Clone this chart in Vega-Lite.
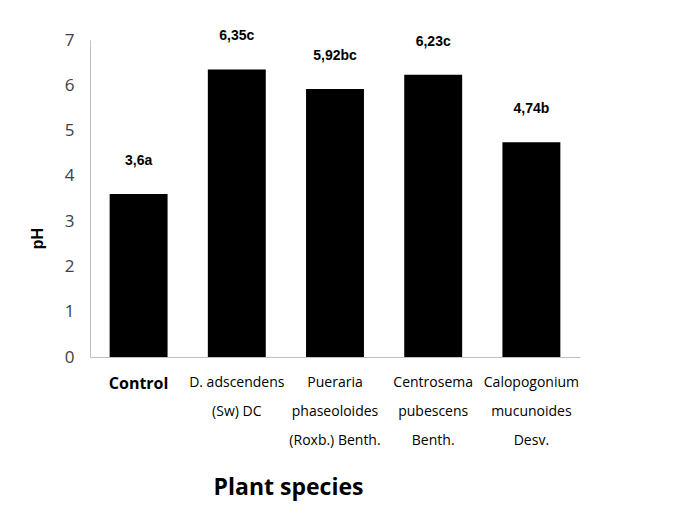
{
  "$schema": "https://vega.github.io/schema/vega-lite/v6.json",
  "autosize": "none",
  "width": 490,
  "height": 317,
  "padding": {"left": 90, "top": 40, "right": 109, "bottom": 162},
  "background": "white",
  "config": {"view": {"stroke": null}},
  "data": {"values": [
    {"species": "Control", "ph": 3.6, "label": "3,6a"},
    {"species": "D. adscendens|(Sw) DC", "ph": 6.35, "label": "6,35c"},
    {"species": "Pueraria|phaseoloides|(Roxb.) Benth.", "ph": 5.92, "label": "5,92bc"},
    {"species": "Centrosema|pubescens|Benth.", "ph": 6.23, "label": "6,23c"},
    {"species": "Calopogonium|mucunoides|Desv.", "ph": 4.74, "label": "4,74b"}
  ]},
  "encoding": {
    "x": {
      "field": "species", "type": "nominal", "sort": null,
      "scale": {"paddingInner": 0.41, "paddingOuter": 0.2},
      "axis": {
        "title": "Plant species",
        "titleFont": "Open Sans", "titleFontSize": 23, "titleFontWeight": "bold", "titleColor": "black",
        "titleX": 198, "titleY": 130, "titleBaseline": "middle",
        "labelAngle": 0,
        "labelExpr": "split(datum.value, '|')",
        "labelFont": "Open Sans",
        "labelFontSize": {"condition": {"test": "datum.value == 'Control'", "value": 16}, "value": 14},
        "labelFontWeight": {"condition": {"test": "datum.value == 'Control'", "value": "bold"}, "value": "normal"},
        "labelColor": "black",
        "labelLineHeight": 29,
        "labelPadding": 18,
        "labelBaseline": "top",
        "ticks": false,
        "domainColor": "#bfbfbf",
        "labelLimit": 200
      }
    },
    "y": {
      "field": "ph", "type": "quantitative",
      "scale": {"domain": [0, 7], "nice": false},
      "axis": {
        "title": "pH",
        "titleFont": "Liberation Sans", "titleFontSize": 16, "titleFontWeight": "bold", "titleColor": "black",
        "titleX": -53, "titleY": 198, "titleBaseline": "middle",
        "values": [0, 1, 2, 3, 4, 5, 6, 7],
        "labelFont": "Open Sans", "labelFontSize": 17, "labelColor": "#404040",
        "labelPadding": 16,
        "ticks": false, "grid": false,
        "domainColor": "#bfbfbf"
      }
    }
  },
  "layer": [
    {"mark": {"type": "bar", "color": "black"}},
    {"mark": {"type": "text", "baseline": "bottom", "dy": -26, "font": "Liberation Sans", "fontSize": 14, "fontWeight": "bold", "color": "black"},
     "encoding": {"text": {"field": "label"}}}
  ]
}
